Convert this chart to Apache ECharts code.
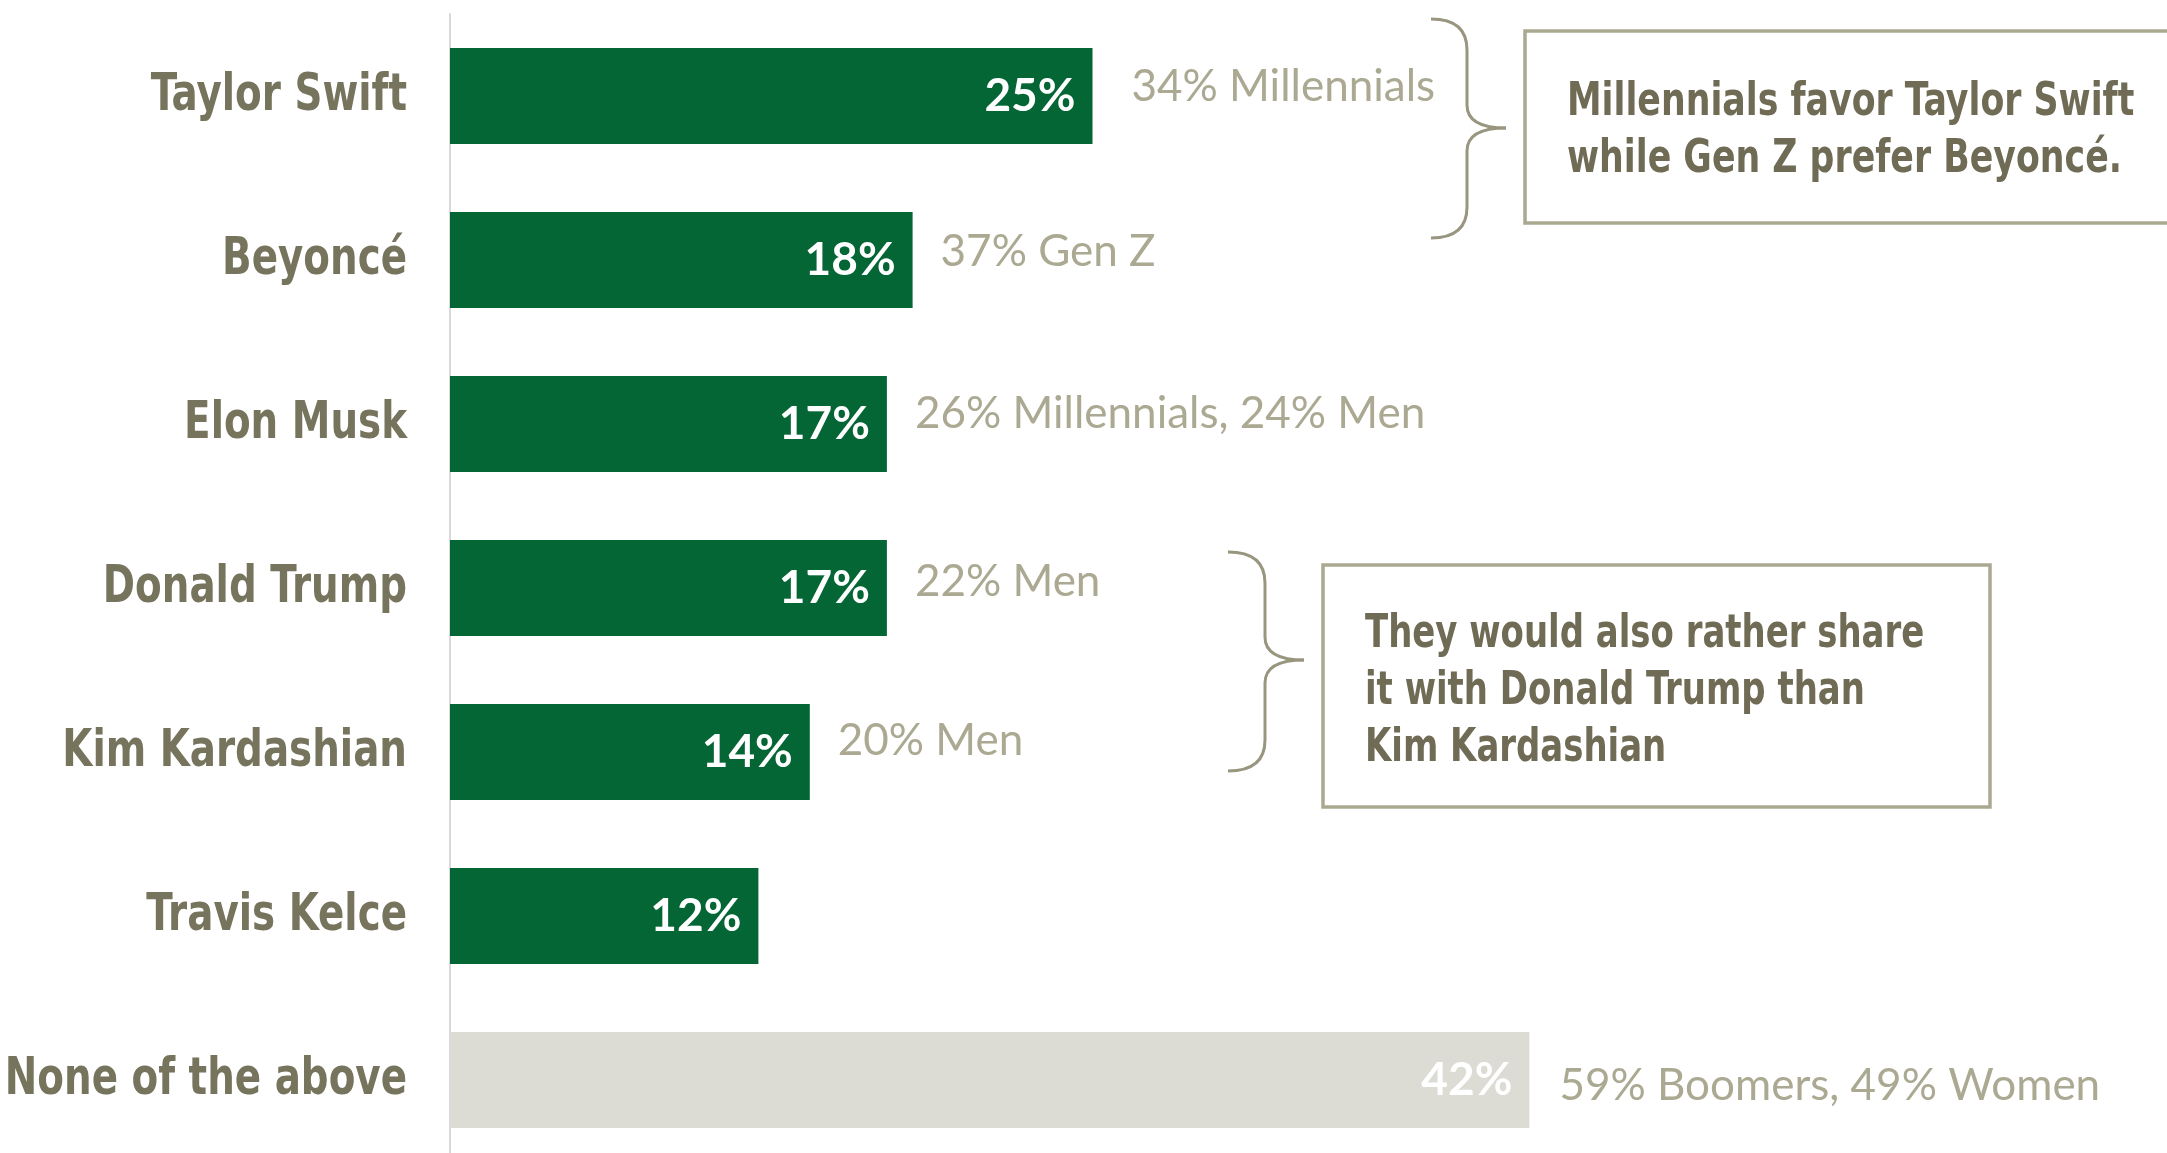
<!DOCTYPE html>
<html>
<head>
<meta charset="utf-8">
<style>
  html, body { margin: 0; padding: 0; background: #ffffff; }
  #chart { width: 2167px; height: 1153px; }
</style>
<script src="https://cdn.jsdelivr.net/npm/echarts@6/dist/echarts.min.js"></script>
</head>
<body>
<div id="chart"></div>
<script>
// Who people would rather share the spotlight with
const categories = ['Taylor Swift', 'Beyoncé', 'Elon Musk', 'Donald Trump', 'Kim Kardashian', 'Travis Kelce', 'None of the above'];
const shares = [25, 18, 17, 17, 14, 12, 42];
const notes = ['34% Millennials', '37% Gen Z', '26% Millennials, 24% Men', '22% Men', '20% Men', '', '59% Boomers, 49% Women'];
const calloutTop = ['Millennials favor Taylor Swift', 'while Gen Z prefer Beyoncé.'];
const calloutBottom = ['They would also rather share', 'it with Donald Trump than', 'Kim Kardashian'];

// styling helpers (not data)
const GREEN = '#046635';
const NEUTRAL = '#DCDBD4';
const LABEL = '#77745E';
const NOTE = '#ABA992';
const BOX = '#AAA891';
const BOXTEXT = '#6F6B55';
const BRACE = '#99967F';
const CONDENSED = '"DejaVu Sans Condensed", "DejaVu Sans", sans-serif';
const noteNudge = [[11, -9], [0, -8], [0, -10], [0, -6], [0, -11], [0, 0], [2, 6]];

// right-facing curly brace built from curves and straight strokes
function brace(xEnd, xStem, xTip, yTop, yMid, yBot) {
  const r = 31, t = 23;
  const st = { stroke: BRACE, lineWidth: 3, fill: null };
  return [
    { type: 'bezierCurve', shape: { x1: xEnd, y1: yTop, cpx1: xStem, cpy1: yTop, x2: xStem, y2: yTop + r }, style: st },
    { type: 'line', shape: { x1: xStem, y1: yTop + r, x2: xStem, y2: yMid - t }, style: st },
    { type: 'bezierCurve', shape: { x1: xStem, y1: yMid - t, cpx1: xStem, cpy1: yMid, x2: xTip, y2: yMid }, style: st },
    { type: 'bezierCurve', shape: { x1: xTip, y1: yMid, cpx1: xStem, cpy1: yMid, x2: xStem, y2: yMid + t }, style: st },
    { type: 'line', shape: { x1: xStem, y1: yMid + t, x2: xStem, y2: yBot - r }, style: st },
    { type: 'bezierCurve', shape: { x1: xStem, y1: yBot - r, cpx1: xStem, cpy1: yBot, x2: xEnd, y2: yBot }, style: st }
  ];
}

// boxed callout with narrowed bold text
function callout(x, y, w, h, lines, tx, ty, sx) {
  return [
    { type: 'rect', shape: { x: x, y: y, width: w, height: h }, style: { fill: '#ffffff', stroke: BOX, lineWidth: 3.5 } },
    {
      type: 'text', x: tx, y: ty, scaleX: sx,
      style: { text: lines.join('\n'), fill: BOXTEXT, font: 'bold 46px ' + CONDENSED, lineHeight: 57, align: 'left', verticalAlign: 'top' }
    }
  ];
}

const chart = echarts.init(document.getElementById('chart'), null, { renderer: 'canvas' });

const barData = shares.map((v, i) => ({
  value: v,
  itemStyle: { color: i === shares.length - 1 ? NEUTRAL : GREEN }
}));

const noteData = shares.map((v, i) => ({
  value: v,
  label: { offset: noteNudge[i], formatter: notes[i] }
}));

const option = {
  animation: false,
  backgroundColor: '#ffffff',
  grid: { left: 450, top: 14, width: 25.7 * 60, height: 1148, containLabel: false, outerBoundsMode: 'none' },
  xAxis: {
    type: 'value', min: 0, max: 60,
    show: false
  },
  yAxis: {
    type: 'category',
    data: categories,
    inverse: true,
    axisLine: { show: true, lineStyle: { color: '#D9D9D9', width: 2 } },
    axisTick: { show: false },
    splitLine: { show: false },
    axisLabel: { show: false }
  },
  series: [
    {
      type: 'bar',
      data: barData,
      barWidth: 96,
      z: 2,
      label: {
        show: true,
        position: 'insideRight',
        distance: 17,
        formatter: '{c}%',
        color: '#ffffff',
        fontFamily: 'Lato, sans-serif',
        fontWeight: 'bold',
        fontSize: 46
      }
    },
    {
      type: 'bar',
      data: noteData,
      barWidth: 96,
      barGap: '-100%',
      z: 1,
      itemStyle: { color: 'rgba(0,0,0,0)' },
      label: {
        show: true,
        position: 'right',
        distance: 28,
        color: NOTE,
        fontFamily: 'Lato, sans-serif',
        fontSize: 44
      }
    }
  ]
};

chart.setOption(option);

// category names, placed on the category axis and narrowed to a condensed look
const axisX = chart.convertToPixel({ xAxisIndex: 0 }, 0);
const nameLabels = categories.map((name) => ({
  type: 'text',
  x: axisX - 43,
  y: chart.convertToPixel({ yAxisIndex: 0 }, name),
  scaleX: 0.83,
  style: {
    text: name,
    fill: LABEL,
    font: 'bold 52px ' + CONDENSED,
    align: 'right',
    verticalAlign: 'middle'
  }
}));

chart.setOption({
  graphic: [].concat(
    nameLabels,
    brace(1431, 1467, 1506, 19, 128, 238),
    callout(1525, 31, 700, 192, calloutTop, 1567, 75, 0.84),
    brace(1228, 1265, 1304, 552, 660, 771),
    callout(1323, 565, 667, 242, calloutBottom, 1365, 607, 0.82)
  )
});
</script>
</body>
</html>
